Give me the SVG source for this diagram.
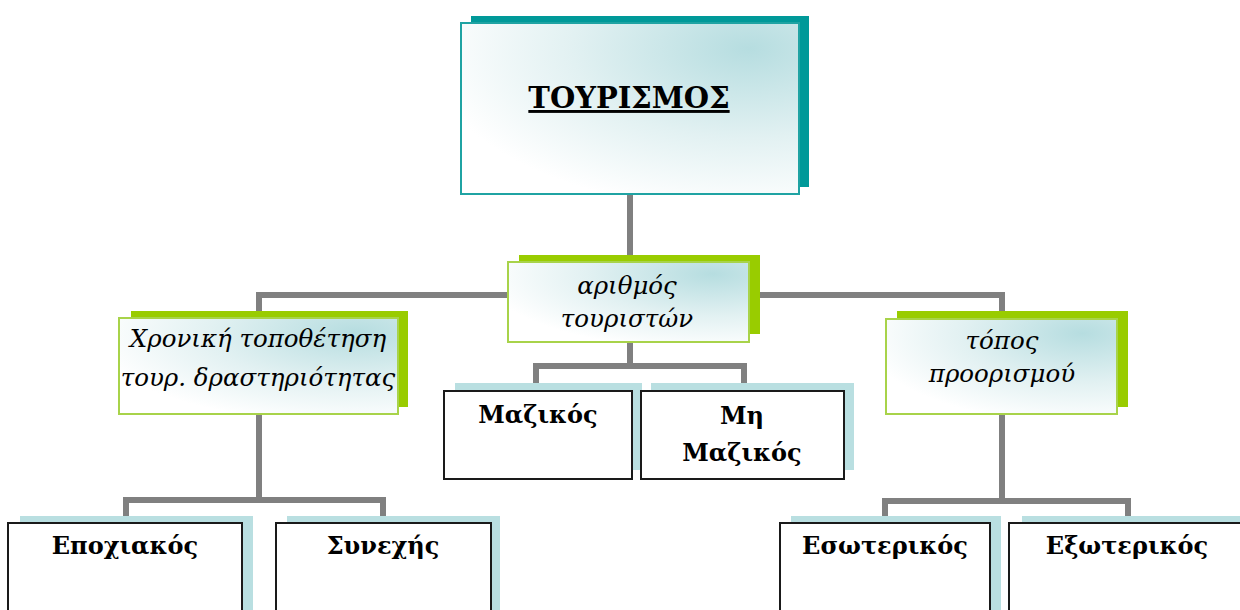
<svg xmlns="http://www.w3.org/2000/svg" width="1240" height="610" viewBox="0 0 1240 610">
<defs>
<radialGradient id="g" cx="0.85" cy="0.15" r="0.95" fx="0.85" fy="0.15">
<stop offset="0" stop-color="#b6dde0"/>
<stop offset="0.55" stop-color="#e2f1f2"/>
<stop offset="1" stop-color="#ffffff"/>
</radialGradient>
<style>
.conn{fill:none;stroke:#808080;stroke-width:6}
.tshadow{fill:#009999}
.gshadow{fill:#99cc00}
.bshadow{fill:#b9dfe1}
.tfront{fill:url(#g);stroke:#1fa3a3;stroke-width:2}
.gfront{fill:url(#g);stroke:#a8d34a;stroke-width:2}
.wfront{fill:#ffffff;stroke:#1a1a1a;stroke-width:2}
.it{font-family:"DejaVu Serif",serif;font-style:italic;font-size:24.5px;fill:#000;text-anchor:middle}
.bd{font-family:"DejaVu Serif",serif;font-weight:bold;font-size:24px;fill:#000;text-anchor:middle}
.title{font-size:29px;text-decoration:underline}
</style>
</defs>
<g id="connectors">
<path class="conn" d="M630,194 V258"/>
<path class="conn" d="M259,318 V295 H1002 V314"/>
<path class="conn" d="M630,342 V366 M536,385 V366 H744 V385"/>
<path class="conn" d="M259,414 V500 M126,518 V500 H383 V518"/>
<path class="conn" d="M1002,414 V501 M885,518 V501 H1128 V518"/>
</g>
<g id="tourismos">
<rect class="tshadow" x="471" y="16" width="338" height="171"/>
<rect class="tfront" x="461" y="23" width="338" height="171"/>
<text class="bd title" x="629" y="108">ΤΟΥΡΙΣΜΟΣ</text>
</g>
<g id="arithmos">
<rect class="gshadow" x="519" y="255" width="241" height="79"/>
<rect class="gfront" x="508" y="262" width="241" height="80"/>
<text class="it" x="627" y="294">αριθμός</text>
<text class="it" x="627" y="327">τουριστών</text>
</g>
<g id="xroniki">
<rect class="gshadow" x="131" y="311" width="277" height="96"/>
<rect class="gfront" x="119" y="318" width="279" height="96"/>
<text class="it" x="258" y="347">Χρονική τοποθέτηση</text>
<text class="it" x="258" y="386">τουρ. δραστηριότητας</text>
</g>
<g id="topos">
<rect class="gshadow" x="897" y="311" width="231" height="96"/>
<rect class="gfront" x="886" y="319" width="231" height="95"/>
<text class="it" x="1002" y="349">τόπος</text>
<text class="it" x="1002" y="382">προορισμού</text>
</g>
<g id="mazikos">
<rect class="bshadow" x="455" y="383" width="187" height="87"/>
<rect class="wfront" x="444" y="391" width="188" height="88"/>
<text class="bd" x="538" y="423">Μαζικός</text>
</g>
<g id="mi-mazikos">
<rect class="bshadow" x="651" y="383" width="203" height="87"/>
<rect class="wfront" x="641" y="391" width="203" height="88"/>
<text class="bd" x="742" y="424">Μη</text>
<text class="bd" x="742" y="461">Μαζικός</text>
</g>
<g id="epoxiakos">
<rect class="bshadow" x="20" y="516" width="233" height="110"/>
<rect class="wfront" x="8" y="523" width="234" height="100"/>
<text class="bd" x="125" y="554">Εποχιακός</text>
</g>
<g id="synexis">
<rect class="bshadow" x="287" y="516" width="213" height="110"/>
<rect class="wfront" x="276" y="523" width="215" height="100"/>
<text class="bd" x="383" y="554">Συνεχής</text>
</g>
<g id="esoterikos">
<rect class="bshadow" x="791" y="516" width="210" height="110"/>
<rect class="wfront" x="780" y="523" width="210" height="100"/>
<text class="bd" x="885" y="554">Εσωτερικός</text>
</g>
<g id="exoterikos">
<rect class="bshadow" x="1022" y="516" width="230" height="110"/>
<rect class="wfront" x="1009" y="523" width="240" height="100"/>
<text class="bd" x="1127" y="554">Εξωτερικός</text>
</g>
</svg>
